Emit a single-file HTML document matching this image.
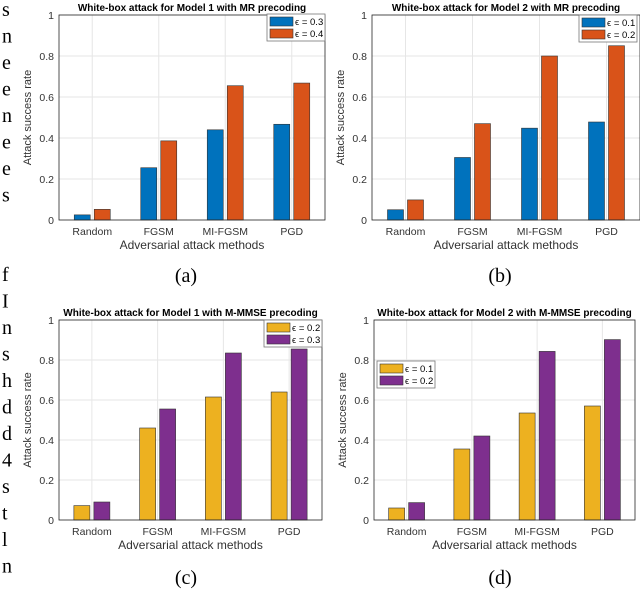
<!DOCTYPE html>
<html><head><meta charset="utf-8"><style>
body{margin:0;background:#fff;width:640px;height:602px;overflow:hidden;position:relative;font-family:"Liberation Sans",sans-serif}
svg{position:absolute;left:0;top:0}
</style></head><body>
<svg id="s" width="640" height="602" xmlns="http://www.w3.org/2000/svg"></svg>
<script>
const categories=["Random","FGSM","MI-FGSM","PGD"];
const yTicks=[0,0.2,0.4,0.6,0.8,1];
const yTickLabels=["0","0.2","0.4","0.6","0.8","1"];
const titles=["White-box attack for Model 1 with MR precoding","White-box attack for Model 2 with MR precoding","White-box attack for Model 1 with M-MMSE precoding","White-box attack for Model 2 with M-MMSE precoding"];
const seriesA1=[0.025,0.255,0.44,0.467], seriesA2=[0.052,0.386,0.655,0.668];
const seriesB1=[0.05,0.305,0.448,0.478], seriesB2=[0.098,0.47,0.80,0.85];
const seriesC1=[0.072,0.46,0.615,0.64], seriesC2=[0.09,0.555,0.835,0.855];
const seriesD1=[0.06,0.355,0.535,0.57], seriesD2=[0.087,0.42,0.843,0.902];
const legendA=["\u03f5 = 0.3","\u03f5 = 0.4"], legendB=["\u03f5 = 0.1","\u03f5 = 0.2"], legendC=["\u03f5 = 0.2","\u03f5 = 0.3"], legendD=["\u03f5 = 0.1","\u03f5 = 0.2"];
const captions=["(a)","(b)","(c)","(d)"];
const S=document.getElementById('s');const NS="http://www.w3.org/2000/svg";
function el(t,a,p){const e=document.createElementNS(NS,t);for(const k in a)e.setAttribute(k,a[k]);(p||S).appendChild(e);return e;}
function txt(x,y,s,a,p){const e=el('text',Object.assign({x:x,y:y},a),p);e.textContent=s;return e;}
const panels=[
 {L:59,R:325,T:15,B:220,s1:seriesA1,s2:seriesA2,c1:"#0072BD",c2:"#D95319",leg:legendA,lg:[267,14],cap:[186,282]},
 {L:372,R:640,T:15,B:220,s1:seriesB1,s2:seriesB2,c1:"#0072BD",c2:"#D95319",leg:legendB,lg:[579,15],cap:[500,282]},
 {L:59,R:322,T:320,B:520,s1:seriesC1,s2:seriesC2,c1:"#EDB120",c2:"#7E2F8E",leg:legendC,lg:[264,320],cap:[186,584]},
 {L:374,R:635,T:320,B:520,s1:seriesD1,s2:seriesD2,c1:"#EDB120",c2:"#7E2F8E",leg:legendD,lg:[377,361],cap:[500,584]}];
panels.forEach((P,i)=>{
 const g=el('g',{});
 
 
 const n=categories.length, w=(P.R-P.L)/n;
 const xs=k=>P.L+w*(k+0.5), ys=v=>P.B-v*(P.B-P.T);
 yTicks.forEach((t,k)=>{
  const gl=el('line',{x1:P.L,x2:P.R,y1:ys(t),y2:ys(t),stroke:"#e6e6e6","stroke-width":1},g);
  
  
  const tl=txt(P.L-5,ys(t)+4,yTickLabels[k],{"text-anchor":"end","font-size":10.5,fill:"#333"},g);
  
  
 });
 categories.forEach((c,k)=>{
  el('line',{x1:xs(k),x2:xs(k),y1:P.T,y2:P.B,stroke:"#e6e6e6","stroke-width":1},g);
  const xl=txt(xs(k),P.B+15,c,{"text-anchor":"middle","font-size":10.5,fill:"#333"},g);
  
  
  const b1=el('rect',{x:xs(k)-18,y:ys(P.s1[k]),width:16,height:P.B-ys(P.s1[k]),fill:P.c1,stroke:"#333","stroke-width":0.6},g);
  
  
  const b2=el('rect',{x:xs(k)+2,y:ys(P.s2[k]),width:16,height:P.B-ys(P.s2[k]),fill:P.c2,stroke:"#333","stroke-width":0.6},g);
  
  
 });
 el('rect',{x:P.L,y:P.T,width:P.R-P.L,height:P.B-P.T,fill:"none",stroke:"#262626","stroke-width":0.8},g);
 const tt=txt((P.L+P.R)/2,P.T-4,titles[i],{"text-anchor":"middle","font-size":10,"font-weight":"bold",fill:"#000"},g);
 
 
 const xt=txt((P.L+P.R)/2,P.B+29,"Adversarial attack methods",{"text-anchor":"middle","font-size":12,fill:"#333"},g);
 
 
 const cy=(P.T+P.B)/2, cx=P.L-28;
 const yt=txt(cx,cy,"Attack success rate",{"text-anchor":"middle","font-size":11,fill:"#333",transform:`rotate(-90 ${cx} ${cy})`},g);
 
 
 const lg=el('g',{},g);
 
 
 const [lx,ly]=P.lg;
 el('rect',{x:lx,y:ly,width:58,height:27,fill:"#fff",stroke:"#777","stroke-width":0.8},lg);
 [P.c1,P.c2].forEach((c,k)=>{
  el('rect',{x:lx+3,y:ly+3+k*12,width:23,height:9,fill:c,stroke:"#333","stroke-width":0.6},lg);
  txt(lx+28,ly+11+k*12,P.leg[k],{"font-size":9.5,fill:"#000"},lg);
 });
 const cp=txt(P.cap[0],P.cap[1],captions[i],{"text-anchor":"middle","font-size":20,"font-family":"Liberation Serif, serif",fill:"#000"});
 
 
});
const sideText=["s","n","e","e","n","e","e","s","","","f","I","n","s","h","d","d","4","s","t","l","n"];
sideText.forEach((c,k)=>{
 const t=txt(2,16+k*26.5,c,{"font-size":20,"font-family":"Liberation Serif, serif",fill:"#000"});
 
 
});
</script>
</body></html>
